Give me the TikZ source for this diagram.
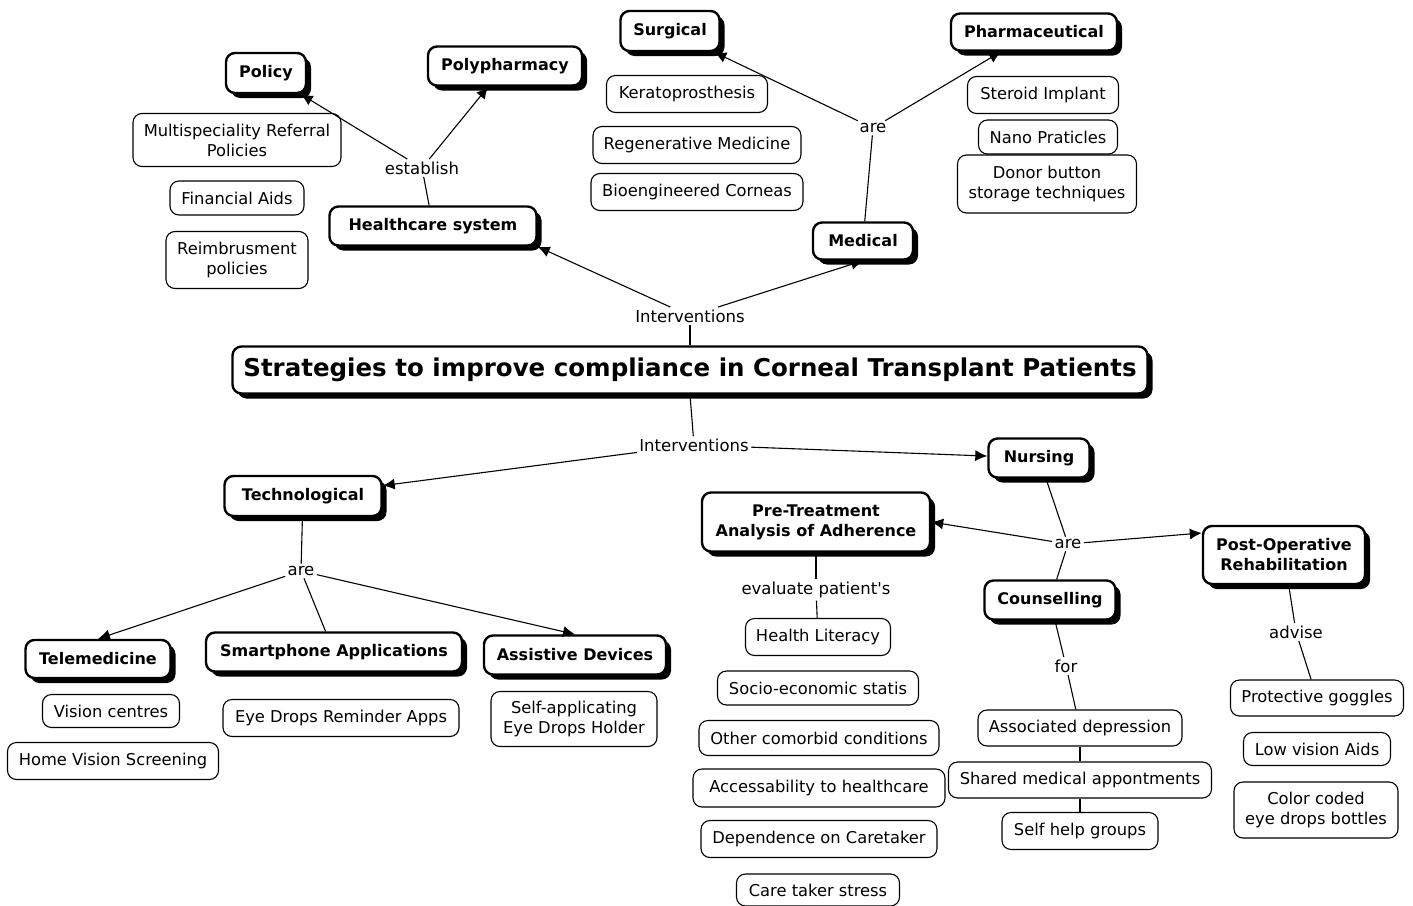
\documentclass[tikz,border=0pt]{standalone}
\usepackage{fontspec}
\setmainfont{DejaVu Sans}
\usetikzlibrary{arrows.meta}
\usetikzlibrary{shadows}
\tikzset{%
	>={Latex[width=11pt,length=12pt]},
	% Specifications for style of nodes:
	concept/.style = {rectangle, rounded corners=9pt, draw=black, line width=2.4pt,
				   fill=white, minimum height=39pt, align=center, inner sep=2pt,
				   font=\fontsize{16}{20}\selectfont\bfseries,
				   drop shadow={shadow xshift=5pt, shadow yshift=-5pt, fill=black, opacity=1}},
	resource/.style = {rectangle, rounded corners=9pt, draw=black, line width=1.1pt,
				   fill=white, minimum height=36pt, align=center, inner sep=2pt,
				   font=\fontsize{16.3}{20}\selectfont},
	linkword/.style = {fill=white, inner sep=2pt, font=\fontsize{16.5}{18}\selectfont},
	every path/.style = {line width=1.1pt},
}
\begin{document}
\begin{tikzpicture}[x=1pt, y=-1pt]
	\useasboundingbox (0,0) rectangle (1413,905);

	% Main concept
	\node (strategies) [concept, minimum width=915pt, minimum height=47pt,
		font=\fontsize{24.5}{28}\selectfont\bfseries] at (690,370)
		{Strategies to improve compliance in Corneal Transplant Patients};

	% Upper half
	\node (intUp)      [linkword] at (690,316) {Interventions};
	\node (healthcare) [concept, minimum width=207pt] at (433,226) {Healthcare system};
	\node (medical)    [concept, minimum width=100pt, minimum height=37pt] at (863,241) {Medical};
	\node (establish)  [linkword] at (422,168) {establish};
	\node (policy)     [concept, minimum width=80pt, minimum height=40pt] at (266,73) {Policy};
	\node (polypharm)  [concept, minimum width=154pt] at (505,66) {Polypharmacy};
	\node (areMed)     [linkword] at (873,128) {are};
	\node (surgical)   [concept, minimum width=99pt, minimum height=40pt] at (670,31) {Surgical};
	\node (pharma)     [concept, minimum width=166pt, minimum height=37pt] at (1034,32) {Pharmaceutical};

	\node (multiRef)   [resource, minimum width=208pt, minimum height=53pt] at (237,140) {Multispeciality Referral\\Policies};
	\node (finAids)    [resource, minimum width=134pt, minimum height=34pt] at (237,198) {Financial Aids};
	\node (reimb)      [resource, minimum width=142pt, minimum height=57pt] at (237,260) {Reimbrusment\\policies};
	\node (kerato)     [resource, minimum width=161pt, minimum height=37pt] at (687,94) {Keratoprosthesis};
	\node (regen)      [resource, minimum width=208pt, minimum height=37pt] at (697,145) {Regenerative Medicine};
	\node (bioeng)     [resource, minimum width=212pt, minimum height=37pt] at (697,192) {Bioengineered Corneas};
	\node (steroid)    [resource, minimum width=151pt, minimum height=37pt] at (1043,95) {Steroid Implant};
	\node (nano)       [resource, minimum width=139pt, minimum height=34pt] at (1048,137) {Nano Praticles};
	\node (donor)      [resource, minimum width=179pt, minimum height=58pt] at (1047,184) {Donor button\\storage techniques};

	% Lower half
	\node (intDown)    [linkword] at (694,445) {Interventions};
	\node (techno)     [concept, minimum width=157pt, minimum height=40pt] at (303,496) {Technological};
	\node (nursing)    [concept, minimum width=101pt] at (1039,458) {Nursing};
	\node (areTech)    [linkword] at (301,571) {are};
	\node (telemed)    [concept, minimum width=145pt, minimum height=38pt] at (98,659) {Telemedicine};
	\node (smartphone) [concept, minimum width=256pt] at (334,652) {Smartphone Applications};
	\node (assistive)  [concept, minimum width=182pt] at (575,655) {Assistive Devices};
	\node (areNurs)    [linkword] at (1068,544) {are};
	\node (preTreat)   [concept, minimum width=228pt, minimum height=59pt] at (816,522) {Pre-Treatment\\Analysis of Adherence};
	\node (postOp)     [concept, minimum width=162pt, minimum height=58pt] at (1284,555) {Post-Operative\\Rehabilitation};
	\node (counsel)    [concept, minimum width=131pt] at (1050,600) {Counselling};
	\node (evaluate)   [linkword] at (816,590) {evaluate patient\textquotesingle s};
	\node (for)        [linkword] at (1066,666) {for};
	\node (advise)     [linkword] at (1296,632) {advise};

	\node (visionCtr)  [resource, minimum width=137pt, minimum height=33pt] at (111,711) {Vision centres};
	\node (homeVision) [resource, minimum width=211pt, minimum height=37pt] at (113,761) {Home Vision Screening};
	\node (reminder)   [resource, minimum width=236pt, minimum height=37pt] at (341,718) {Eye Drops Reminder Apps};
	\node (selfHolder) [resource, minimum width=166pt, minimum height=55pt] at (574,719) {Self-applicating\\Eye Drops Holder};
	\node (literacy)   [resource, minimum width=145pt, minimum height=37pt] at (818,637) {Health Literacy};
	\node (socio)      [resource, minimum width=201pt, minimum height=34pt] at (818,688) {Socio-economic statis};
	\node (comorbid)   [resource, minimum width=240pt, minimum height=35pt] at (819,738) {Other comorbid conditions};
	\node (access)     [resource, minimum width=252pt, minimum height=38pt] at (819,788) {Accessability to healthcare};
	\node (depend)     [resource, minimum width=236pt, minimum height=37pt] at (819,839) {Dependence on Caretaker};
	\node (stress)     [resource, minimum width=163pt, minimum height=32pt] at (818,890) {Care taker stress};
	\node (depress)    [resource, minimum width=204pt] at (1080,728) {Associated depression};
	\node (shared)     [resource, minimum width=263pt] at (1080,780) {Shared medical appontments};
	\node (selfHelp)   [resource, minimum width=156pt, minimum height=37pt] at (1080,831) {Self help groups};
	\node (goggles)    [resource, minimum width=173pt] at (1317,698) {Protective goggles};
	\node (lowVision)  [resource, minimum width=147pt, minimum height=33pt] at (1317,749) {Low vision Aids};
	\node (colorCoded) [resource, minimum width=164pt, minimum height=56pt] at (1316,810) {Color coded\\eye drops bottles};

	% Connectors
	\draw (strategies.north) -- (intUp);
	\draw[->] (intUp) -- (healthcare.south east);
	\draw[->] (intUp) -- (medical.south);
	\draw (healthcare) -- (establish);
	\draw[->] (establish) -- (policy);
	\draw[->] (establish) -- (polypharm);
	\draw (medical) -- (areMed);
	\draw[->] (areMed) -- (surgical);
	\draw[->] (areMed) -- (pharma);

	\draw (strategies.south) -- (intDown);
	\draw[->] (intDown) -- (techno);
	\draw[->] (intDown) -- (nursing);
	\draw (techno) -- (areTech);
	\draw[->] (areTech) -- (telemed.north);
	\draw (areTech) -- (smartphone);
	\draw[->] (areTech) -- (assistive.north);
	\draw (nursing) -- (areNurs);
	\draw[->] (areNurs) -- (preTreat.east);
	\draw[->] (areNurs) -- (postOp.165);
	\draw (areNurs) -- (counsel);
	\draw (preTreat) -- (evaluate);
	\draw (evaluate) -- (literacy);
	\draw (counsel) -- (for);
	\draw (for) -- (depress);
	\draw (depress) -- (shared);
	\draw (shared) -- (selfHelp);
	\draw (postOp) -- (advise);
	\draw (advise) -- (goggles);
\end{tikzpicture}
\end{document}
